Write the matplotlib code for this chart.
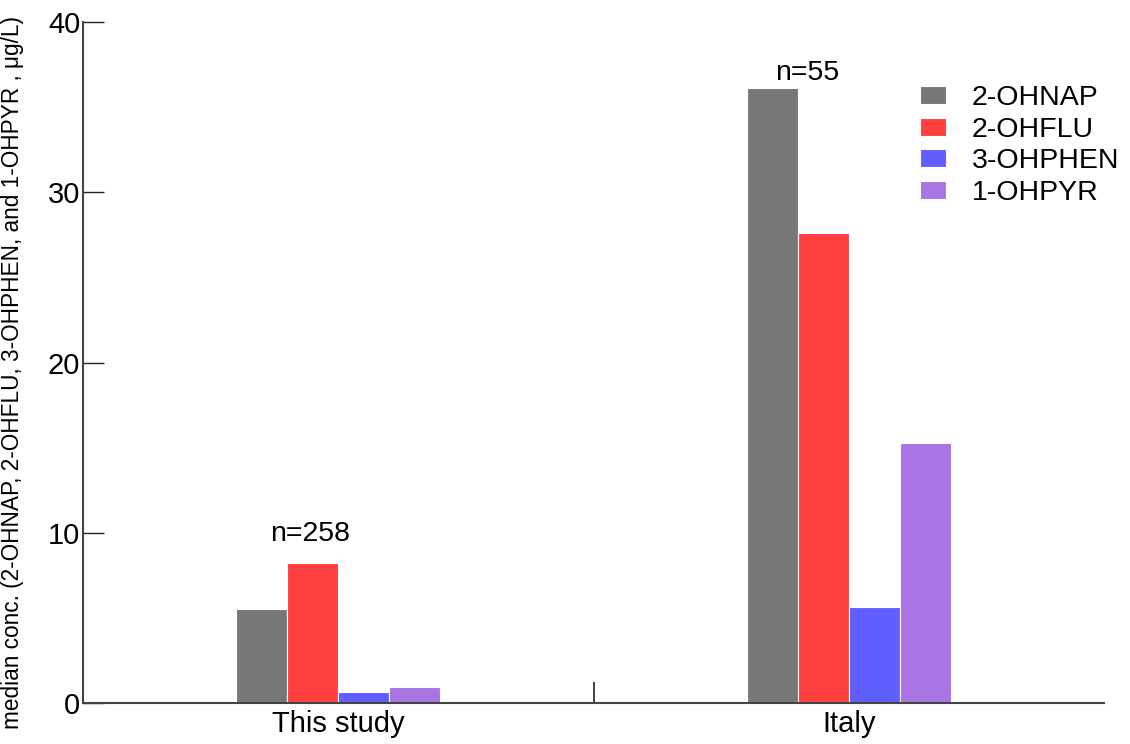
import numpy as np
import matplotlib.pyplot as plt

plt.rcParams['font.family'] = ['Liberation Sans', 'DejaVu Sans']

# data
groups = ['This study', 'Italy']
compounds = ['2-OHNAP', '2-OHFLU', '3-OHPHEN', '1-OHPYR']
values = {
    '2-OHNAP': [5.52, 36.1],
    '2-OHFLU': [8.22, 27.6],
    '3-OHPHEN': [0.65, 5.64],
    '1-OHPYR': [0.94, 15.3],
}
sample_sizes = ['n=258', 'n=55']
colors = ['#777777', '#ff4040', '#5f5fff', '#a974e4']

fig = plt.figure(figsize=(11.3, 7.44), dpi=100)
ax = fig.add_axes([0.0735, 0.0551, 0.9035, 0.9153])

x = np.arange(len(groups))
width = 0.1
for i, name in enumerate(compounds):
    offs = (i - 1.5) * width
    ax.bar(x + offs, values[name], width, color=colors[i], edgecolor='white',
           linewidth=0.8, label=name)

# sample size labels above each group
label_y = [9.9, 37.0]
label_dx = [-0.056, -0.082]
for i, txt in enumerate(sample_sizes):
    ax.text(x[i] + label_dx[i], label_y[i], txt, ha='center', va='center', fontsize=20.5)

ax.set_xlim(-0.5, 1.5)
ax.set_ylim(0, 40)
ax.set_yticks([0, 10, 20, 30, 40])
ax.set_xticks([0.5])
ax.set_xticklabels([''])
ax.set_xticks(x, minor=True)
ax.set_xticklabels(groups, minor=True, fontsize=21)
ax.tick_params(axis='x', which='minor', length=0, pad=5)
ax.tick_params(axis='x', which='major', direction='in', length=15, width=1.2, color='#222222')
ax.tick_params(axis='y', direction='in', length=15, width=1.0, labelsize=21, color='#222222', pad=2)

for side in ['top', 'right']:
    ax.spines[side].set_visible(False)
for side in ['left', 'bottom']:
    ax.spines[side].set_color('#444444')
    ax.spines[side].set_linewidth(1.5)

ax.set_ylabel('median conc. (2-OHNAP, 2-OHFLU, 3-OHPHEN, and 1-OHPYR , \u03bcg/L)', fontsize=16.3)
ax.yaxis.set_label_coords(-0.058, 0.485)

ax.legend(loc='upper left', bbox_to_anchor=(0.795, 0.945), frameon=False, fontsize=20.5,
          handlelength=0.9, handleheight=0.6, labelspacing=0.2, handletextpad=0.9)

fig.savefig('out.png', dpi=100)
